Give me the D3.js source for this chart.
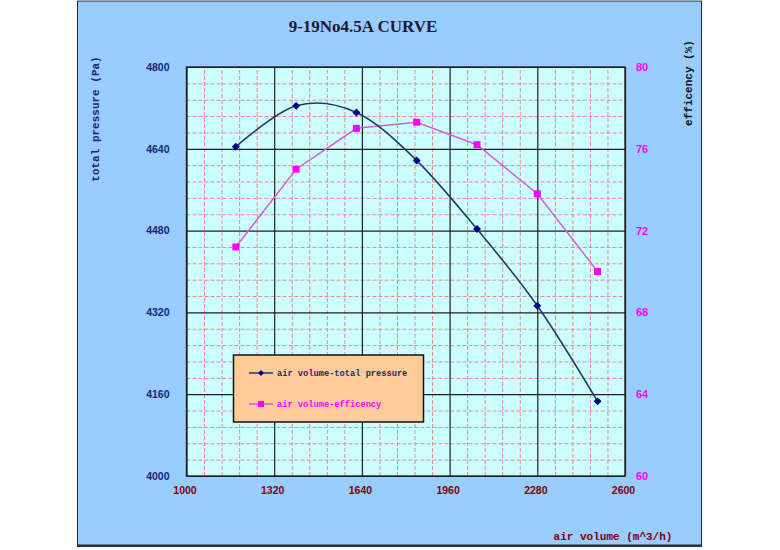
<!DOCTYPE html>
<html><head><meta charset="utf-8">
<script src="https://cdn.jsdelivr.net/npm/d3@7/dist/d3.min.js"></script>
<style>html,body{margin:0;padding:0;background:#fff;}svg{display:block;}</style>
</head><body>
<svg id="chart" width="780" height="550"></svg>
<script>
// ---- data ----
const title = "9-19No4.5A CURVE";
const xTicks = [1000, 1320, 1640, 1960, 2280, 2600];
const pressureTicks = [4000, 4160, 4320, 4480, 4640, 4800];
const effTicks = [60, 64, 68, 72, 76, 80];
const airVolume = [1180, 1400, 1620, 1840, 2060, 2280, 2500];
const totalPressure = [4644, 4724, 4711, 4617, 4483, 4333, 4146];
const efficiency = [71.2, 75.0, 77.0, 77.3, 76.2, 73.8, 70.0];
const seriesNames = ["air volume-total pressure", "air volume-efficency"];

const svg = d3.select("#chart");
const plot = {left: 186.5, right: 625, top: 67, bottom: 476};

// outer blue chart area
svg.append("rect").attr("x", 77.5).attr("y", 1).attr("width", 624).attr("height", 544)
  .attr("fill", "#99CCFF").attr("stroke", "#1a2a3a").attr("stroke-width", 1);
svg.append("line").attr("x1", 77).attr("x2", 702).attr("y1", 0.5).attr("y2", 0.5)
  .attr("stroke", "#aaa");
svg.append("line").attr("x1", 77).attr("x2", 702).attr("y1", 546).attr("y2", 546)
  .attr("stroke", "#223344").attr("stroke-width", 2);

const x = d3.scaleLinear().domain([1000, 2600]).range([plot.left, plot.right]);
const yP = d3.scaleLinear().domain([4000, 4800]).range([plot.bottom, plot.top]);
const yE = d3.scaleLinear().domain([60, 80]).range([plot.bottom, plot.top]);

// plot background
svg.append("rect").attr("x", plot.left).attr("y", plot.top)
  .attr("width", plot.right - plot.left).attr("height", plot.bottom - plot.top)
  .attr("fill", "#CCFFFF");

const pw = plot.right - plot.left, ph = plot.bottom - plot.top;

// minor grid (dashed)
const minorX = d3.range(1000, 2600.1, 64).filter(v => !xTicks.includes(v));
const minorY = d3.range(4000, 4800.1, 32).filter(v => !pressureTicks.includes(v));
const minorG = svg.append("g");
minorG.append("g").attr("transform", `translate(0,${plot.bottom})`)
  .call(d3.axisBottom(x).tickValues(minorX).tickSize(-ph).tickFormat(""))
  .call(g => g.select(".domain").remove())
  .selectAll("line").attr("stroke", "#E88A8A").attr("stroke-dasharray", "4,2").attr("stroke-width", 1);
minorG.append("g").attr("transform", `translate(${plot.left},0)`)
  .call(d3.axisLeft(yP).tickValues(minorY).tickSize(-pw).tickFormat(""))
  .call(g => g.select(".domain").remove())
  .selectAll("line").attr("stroke", "#E88A8A").attr("stroke-dasharray", "4,2").attr("stroke-width", 1);

// major grid
const majorG = svg.append("g");
majorG.append("g").attr("transform", `translate(0,${plot.bottom})`)
  .call(d3.axisBottom(x).tickValues(xTicks).tickSize(-ph).tickFormat(""))
  .call(g => g.select(".domain").remove())
  .selectAll("line").attr("stroke", "#2a1a1a").attr("stroke-width", 1.2);
majorG.append("g").attr("transform", `translate(${plot.left},0)`)
  .call(d3.axisLeft(yP).tickValues(pressureTicks).tickSize(-pw).tickFormat(""))
  .call(g => g.select(".domain").remove())
  .selectAll("line").attr("stroke", "#2a1a1a").attr("stroke-width", 1.2);

// plot border
svg.append("rect").attr("x", plot.left).attr("y", plot.top)
  .attr("width", pw).attr("height", ph)
  .attr("fill", "none").attr("stroke", "#1a1a1a").attr("stroke-width", 1.3);

// axes labels
const tickFont = "'Liberation Sans', Arial, sans-serif";
const axL = svg.append("g").attr("transform", `translate(${plot.left - 14},0)`)
  .call(d3.axisLeft(yP).tickValues(pressureTicks).tickSize(0).tickFormat(d3.format("d")));
axL.select(".domain").remove();
axL.selectAll("text").attr("fill", "#1a237e").attr("font-family", tickFont)
  .attr("font-weight", "bold").attr("font-size", 10.5);

const axR = svg.append("g").attr("transform", `translate(${plot.right + 8},0)`)
  .call(d3.axisRight(yE).tickValues(effTicks).tickSize(0).tickFormat(d3.format("d")));
axR.select(".domain").remove();
axR.selectAll("text").attr("fill", "#FF00FF").attr("font-family", tickFont)
  .attr("font-weight", "bold").attr("font-size", 11);

const axB = svg.append("g").attr("transform", `translate(-2,${plot.bottom + 8})`)
  .call(d3.axisBottom(x).tickValues(xTicks).tickSize(0).tickFormat(d3.format("d")));
axB.select(".domain").remove();
axB.selectAll("text").attr("fill", "#800000").attr("font-family", tickFont)
  .attr("font-weight", "bold").attr("font-size", 10.5);

// titles
const monoFont = "'Liberation Mono', 'DejaVu Sans Mono', monospace";
svg.append("text").attr("x", 363).attr("y", 32).attr("text-anchor", "middle")
  .attr("font-family", "'Liberation Serif', 'Times New Roman', serif").attr("font-weight", "bold")
  .attr("font-size", 17).attr("fill", "#1a1a33").text(title);
svg.append("text").attr("transform", "translate(99,119) rotate(-90)").attr("text-anchor", "middle")
  .attr("font-family", monoFont).attr("font-weight", "bold").attr("font-size", 11)
  .attr("fill", "#1a237e").text("total pressure (Pa)");
svg.append("text").attr("transform", "translate(692,83) rotate(-90)").attr("text-anchor", "middle")
  .attr("font-family", monoFont).attr("font-weight", "bold").attr("font-size", 11)
  .attr("fill", "#111").text("efficency (%)");
svg.append("text").attr("x", 613).attr("y", 540).attr("text-anchor", "middle")
  .attr("font-family", monoFont).attr("font-weight", "bold").attr("font-size", 11)
  .attr("fill", "#800000").text("air volume (m^3/h)");

// series
const pData = airVolume.map((v, i) => [v, totalPressure[i]]);
const eData = airVolume.map((v, i) => [v, efficiency[i]]);

svg.append("path").datum(eData)
  .attr("d", d3.line().x(d => x(d[0])).y(d => yE(d[1])))
  .attr("fill", "none").attr("stroke", "#D060D0").attr("stroke-width", 1.5);
svg.append("path").datum(pData)
  .attr("d", d3.line().x(d => x(d[0])).y(d => yP(d[1])).curve(d3.curveCatmullRom.alpha(0)))
  .attr("fill", "none").attr("stroke", "#1F3A6B").attr("stroke-width", 1.6);

const diamond = d3.symbol().type(d3.symbolDiamond2).size(40);
svg.append("g").selectAll("path").data(pData).join("path")
  .attr("d", diamond).attr("transform", d => `translate(${x(d[0])},${yP(d[1])})`)
  .attr("fill", "#000080");
svg.append("g").selectAll("rect").data(eData).join("rect")
  .attr("x", d => x(d[0]) - 3.5).attr("y", d => yE(d[1]) - 3.5)
  .attr("width", 7).attr("height", 7).attr("fill", "#FF00FF");

// legend
const lg = svg.append("g");
lg.append("rect").attr("x", 233.5).attr("y", 355).attr("width", 190).attr("height", 67)
  .attr("fill", "#FFCC99").attr("stroke", "#111").attr("stroke-width", 1.5);
const legendRows = [
  {name: seriesNames[0], y: 373, line: "#1F3A6B", mark: "#000080", text: "#1a237e", type: "d"},
  {name: seriesNames[1], y: 404, line: "#D060D0", mark: "#FF00FF", text: "#FF00FF", type: "s"}
];
legendRows.forEach(r => {
  lg.append("line").attr("x1", 249).attr("x2", 273).attr("y1", r.y).attr("y2", r.y)
    .attr("stroke", r.line).attr("stroke-width", 1.5);
  if (r.type === "d") {
    lg.append("path").attr("d", d3.symbol().type(d3.symbolDiamond2).size(22)())
      .attr("transform", `translate(261,${r.y})`).attr("fill", r.mark);
  } else {
    lg.append("rect").attr("x", 258).attr("y", r.y - 3).attr("width", 6).attr("height", 6).attr("fill", r.mark);
  }
  lg.append("text").attr("x", 277).attr("y", r.y + 3).attr("font-family", monoFont)
    .attr("font-weight", "bold").attr("font-size", 8.7).attr("fill", r.text).text(r.name);
});
</script>
</body></html>
